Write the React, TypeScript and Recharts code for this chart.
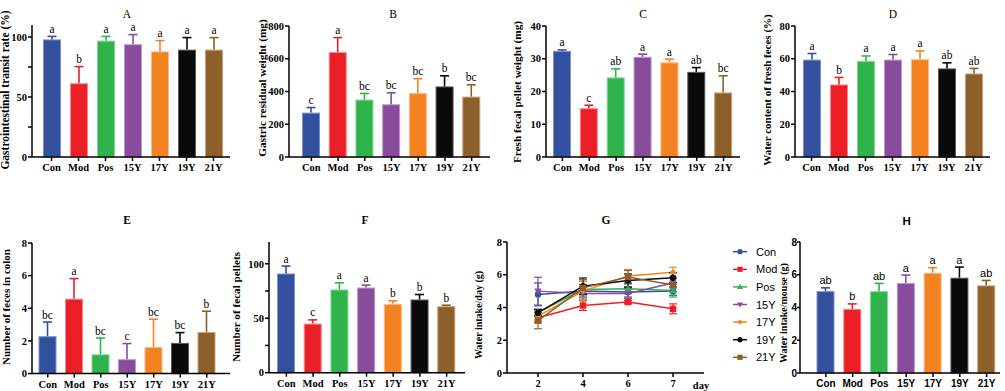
import React from 'react';
import { BarChart, Bar, XAxis, YAxis, LineChart, Line, ErrorBar } from 'recharts';

const SERIF = '"Liberation Serif", "Times New Roman", serif';
const SANS = '"Liberation Sans", Arial, sans-serif';

const groups = ['Con', 'Mod', 'Pos', '15Y', '17Y', '19Y', '21Y'];
const groupColors = ['#33509F', '#EC1F27', '#2FB34B', '#894B9B', '#F58221', '#0A0A0A', '#8D6029'];
const groupEdges = ['#7D92CC', '#F58A8E', '#86D597', '#BC97CA', '#FAB986', '#5A5A5A', '#C6A27A'];
const groupMarkers = ['circle', 'square', 'triangle', 'triangleDown', 'diamond', 'circle', 'square'];

// A - gastrointestinal transit rate (%)
const transitMean = [98, 61.5, 97, 94, 88, 89.5, 89.5];
const transitErr = [2.5, 13.8, 3.5, 8, 9, 10, 10];
const transitSig = ['a', 'b', 'a', 'a', 'a', 'a', 'a'];
const transitTicks = [0, 25, 50, 75, 100];

// B - gastric residual weight (mg)
const residualMean = [271, 641, 351, 322, 390, 431, 369];
const residualErr = [31, 88, 37, 70, 88, 65, 72];
const residualSig = ['c', 'a', 'bc', 'bc', 'bc', 'b', 'bc'];
const residualTicks = [0, 200, 400, 600, 800];

// C - fresh fecal pellet weight (mg)
const pelletWeightMean = [32.4, 14.9, 24.3, 30.6, 28.9, 26.0, 19.7];
const pelletWeightErr = [0.3, 0.9, 2.6, 0.8, 1.0, 1.3, 5.1];
const pelletWeightSig = ['a', 'c', 'ab', 'a', 'a', 'ab', 'bc'];
const pelletWeightTicks = [0, 10, 20, 30, 40];

// D - water content of fresh feces (%)
const waterContentMean = [59.5, 44.3, 58.7, 59.5, 59.7, 54.1, 51.0];
const waterContentErr = [3.7, 4.3, 3.0, 3.1, 5.1, 3.4, 3.1];
const waterContentSig = ['a', 'b', 'a', 'a', 'a', 'ab', 'ab'];
const waterContentTicks = [0, 20, 40, 60, 80];

// E - number of feces in colon
const colonFecesMean = [2.29, 4.59, 1.18, 0.88, 1.63, 1.88, 2.55];
const colonFecesErr = [0.87, 1.23, 1.0, 0.96, 1.7, 0.63, 1.27];
const colonFecesSig = ['bc', 'a', 'bc', 'c', 'bc', 'bc', 'b'];
const colonFecesTicks = [0, 2, 4, 6, 8];

// F - number of fecal pellets
const pelletCountMean = [91.1, 45.1, 76.4, 78.2, 63.2, 67.2, 61.0];
const pelletCountErr = [6.8, 3.4, 6.1, 2.2, 2.8, 4.6, 1.0];
const pelletCountSig = ['a', 'c', 'a', 'a', 'b', 'b', 'b'];
const pelletCountTicks = [0, 25, 50, 75, 100];

// G - water intake per day (g)
const days = ['2', '4', '6', '7'];
const conIntake = [4.8, 5.0, 4.94, 5.0];
const conIntakeErr = [0.7, 0.4, 0.3, 0.25];
const modIntake = [3.37, 4.12, 4.33, 3.92];
const modIntakeErr = [0.3, 0.3, 0.1, 0.3];
const posIntake = [3.71, 5.1, 5.14, 5.04];
const posIntakeErr = [0.2, 0.5, 0.3, 0.4];
const y15Intake = [5.0, 4.86, 4.86, 5.5];
const y15IntakeErr = [0.85, 0.4, 0.3, 0.3];
const y17Intake = [3.47, 5.0, 5.92, 6.16];
const y17IntakeErr = [0.3, 0.6, 0.4, 0.3];
const y19Intake = [3.67, 5.3, 5.65, 5.82];
const y19IntakeErr = [0.2, 0.5, 0.4, 0.3];
const y21Intake = [3.2, 5.2, 5.86, 5.37];
const y21IntakeErr = [0.5, 0.5, 0.4, 0.4];
const intakeTicks = [0, 2, 4, 6, 8];

// H - water intake per mouse (g)
const mouseIntakeMean = [5.0, 3.92, 5.0, 5.5, 6.12, 5.82, 5.35];
const mouseIntakeErr = [0.2, 0.3, 0.47, 0.48, 0.31, 0.65, 0.3];
const mouseIntakeSig = ['ab', 'b', 'ab', 'a', 'a', 'a', 'ab'];
const mouseIntakeTicks = [0, 2, 4, 6, 8];

const intakeSeries = [
  { name: 'Con', values: conIntake, err: conIntakeErr },
  { name: 'Mod', values: modIntake, err: modIntakeErr },
  { name: 'Pos', values: posIntake, err: posIntakeErr },
  { name: '15Y', values: y15Intake, err: y15IntakeErr },
  { name: '17Y', values: y17Intake, err: y17IntakeErr },
  { name: '19Y', values: y19Intake, err: y19IntakeErr },
  { name: '21Y', values: y21Intake, err: y21IntakeErr },
];

const AXW = 32;
const TOPM = 12;
const RM = 6;
const XAH = 24;

const Marker = ({ shape, cx, cy, color, r = 3 }: any) => {
  switch (shape) {
    case 'square':
      return <rect x={cx - r} y={cy - r} width={r * 2} height={r * 2} fill={color} />;
    case 'triangle':
      return <polygon points={`${cx},${cy - r - 0.5} ${cx - r - 0.5},${cy + r - 0.5} ${cx + r + 0.5},${cy + r - 0.5}`} fill={color} />;
    case 'triangleDown':
      return <polygon points={`${cx},${cy + r + 0.5} ${cx - r - 0.5},${cy - r + 0.5} ${cx + r + 0.5},${cy - r + 0.5}`} fill={color} />;
    case 'diamond':
      return <polygon points={`${cx},${cy - r} ${cx + r},${cy} ${cx},${cy + r} ${cx - r},${cy}`} fill={color} />;
    default:
      return <circle cx={cx} cy={cy} r={r} fill={color} />;
  }
};

const SigBar = (props: any) => {
  const { x, y, width, height, payload, index, sans } = props;
  if (!payload || height == null) return null;
  const i = typeof index === 'number' ? index : groups.indexOf(payload.name);
  const color = groupColors[i];
  const errPx = payload.mean ? (payload.err * height) / payload.mean : 0;
  const cx = x + width / 2;
  const top = y - errPx;
  return (
    <g>
      <rect x={x + 0.5} y={y + 0.5} width={width - 1} height={Math.max(height - 0.5, 0)} fill={color} stroke={groupEdges[i]} strokeWidth={1} />
      <line x1={cx} x2={cx} y1={y} y2={top} stroke={color} strokeWidth={1.6} />
      <line x1={cx - 4.5} x2={cx + 4.5} y1={top} y2={top} stroke={color} strokeWidth={1.6} />
      <text x={cx} y={top - 3.5} textAnchor="middle" fontFamily={sans ? SANS : SERIF} fontSize={sans ? 11 : 11.5} fill="#000">
        {payload.sig}
      </text>
    </g>
  );
};

const VLabel = ({ text, x, y, size = 11 }: any) => (
  <div
    style={{
      position: 'absolute',
      left: x,
      top: y,
      transform: 'translate(-50%, -50%) rotate(-90deg)',
      whiteSpace: 'nowrap',
      fontFamily: SERIF,
      fontWeight: 700,
      fontSize: size,
      color: '#000',
      lineHeight: 1,
    }}
  >
    {text}
  </div>
);

const Title = ({ text, x, y, bold, sans }: any) => (
  <div
    style={{
      position: 'absolute',
      left: x,
      top: y,
      transform: 'translate(-50%, -50%)',
      fontFamily: sans ? SANS : SERIF,
      fontWeight: bold ? 700 : 400,
      fontSize: 11.5,
      color: '#000',
      lineHeight: 1,
    }}
  >
    {text}
  </div>
);

const axisStyle = { stroke: '#000', strokeWidth: 1.5 };

const BarPanel = (p: any) => {
  const data = groups.map((name, i) => ({ name, mean: p.mean[i], err: p.err[i], sig: p.sig[i] }));
  const font = p.sans ? SANS : SERIF;
  const tick = { fontFamily: font, fontSize: p.sans ? 10 : 10.5, fontWeight: 700, fill: '#000' };
  return (
    <>
      <div style={{ position: 'absolute', left: p.left - AXW, top: p.top - TOPM }}>
        <BarChart
          width={p.right - p.left + AXW + RM}
          height={p.bottom - p.top + TOPM + XAH}
          data={data}
          margin={{ top: TOPM, right: RM, bottom: 0, left: 0 }}
        >
          <XAxis
            dataKey="name"
            height={XAH}
            interval={0}
            padding={{ left: p.padL, right: p.padR }}
            tickSize={4}
            tickMargin={3}
            axisLine={axisStyle}
            tickLine={axisStyle}
            tick={tick}
          />
          <YAxis
            width={AXW}
            domain={[0, p.max]}
            ticks={p.ticks}
            interval={0}
            tickSize={p.sans ? 3 : 4}
            tickMargin={p.sans ? 0 : 1}
            axisLine={axisStyle}
            tickLine={axisStyle}
            tick={tick}
            tickFormatter={(v: number) => (v % p.major === 0 ? String(v) : '')}
          />
          <Bar dataKey="mean" barSize={18} isAnimationActive={false} shape={(s: any) => <SigBar {...s} sans={p.sans} />} />
        </BarChart>
      </div>
      <Title text={p.title} x={p.titleX} y={p.titleY} bold={p.titleBold} sans={p.sans} />
      <VLabel text={p.yLabel} x={p.yLabelX} y={p.yLabelY} size={p.yLabelSize} />
    </>
  );
};

const IntakePanel = () => {
  const left = 507;
  const right = 704;
  const top = 242.3;
  const bottom = 373.3;
  const data = days.map((day, d) => {
    const row: any = { day };
    intakeSeries.forEach((s) => {
      row[s.name] = s.values[d];
      row[`${s.name}Err`] = s.err[d];
    });
    return row;
  });
  const tick = { fontFamily: SERIF, fontSize: 10.5, fontWeight: 700, fill: '#000' };
  return (
    <>
      <div style={{ position: 'absolute', left: left - AXW, top: top - TOPM }}>
        <LineChart
          width={right - left + AXW + RM}
          height={bottom - top + TOPM + XAH}
          data={data}
          margin={{ top: TOPM, right: RM, bottom: 0, left: 0 }}
        >
          <XAxis
            dataKey="day"
            scale="point"
            height={XAH}
            interval={0}
            padding={{ left: 31, right: 31 }}
            tickSize={4}
            tickMargin={3}
            axisLine={axisStyle}
            tickLine={axisStyle}
            tick={tick}
          />
          <YAxis
            width={AXW}
            domain={[0, 8]}
            ticks={intakeTicks}
            interval={0}
            tickSize={4}
            tickMargin={1}
            axisLine={axisStyle}
            tickLine={axisStyle}
            tick={tick}
          />
          {intakeSeries.map((s, i) => (
            <Line
              key={s.name}
              dataKey={s.name}
              stroke={groupColors[i]}
              strokeWidth={1.5}
              isAnimationActive={false}
              activeDot={false}
              dot={(d: any) => (
                <Marker key={`${s.name}-${d.index}`} shape={groupMarkers[i]} cx={d.cx} cy={d.cy} color={groupColors[i]} r={3.2} />
              )}
            >
              <ErrorBar dataKey={`${s.name}Err`} direction="y" width={4} stroke={groupColors[i]} strokeWidth={1.2} />
            </Line>
          ))}
        </LineChart>
      </div>
      <Title text="G" x={606} y={221} bold />
      <VLabel text="Water intake/day (g)" x={479} y={315} size={10} />
      <div
        style={{
          position: 'absolute',
          left: 701,
          top: 386,
          transform: 'translate(-50%, -50%)',
          fontFamily: SERIF,
          fontWeight: 700,
          fontSize: 10.5,
          lineHeight: 1,
        }}
      >
        day
      </div>
      <svg style={{ position: 'absolute', left: 728, top: 240 }} width={62} height={128}>
        {intakeSeries.map((s, i) => {
          const cy = 11.7 + i * 17.6;
          return (
            <g key={s.name}>
              <line x1={5} x2={19} y1={cy} y2={cy} stroke={groupColors[i]} strokeWidth={1.5} />
              <Marker shape={groupMarkers[i]} cx={12} cy={cy} color={groupColors[i]} r={2.6} />
              <text x={28} y={cy + 4} fontFamily={SANS} fontSize={11} fill="#000">
                {s.name}
              </text>
            </g>
          );
        })}
      </svg>
    </>
  );
};

export default function App() {
  return (
    <div style={{ position: 'absolute', left: 0, top: 0, width: 1005, height: 391, background: '#fff', overflow: 'hidden' }}>
      <BarPanel
        mean={transitMean} err={transitErr} sig={transitSig} ticks={transitTicks} major={50} max={110}
        left={32} right={230} top={25} bottom={157} padL={6} padR={3}
        title="A" titleX={127} titleY={15} yLabel="Gastrointestinal transit rate (%)" yLabelX={6} yLabelY={90} yLabelSize={11.5}
      />
      <BarPanel
        mean={residualMean} err={residualErr} sig={residualSig} ticks={residualTicks} major={200} max={800}
        left={289} right={490} top={26} bottom={157} padL={9} padR={5}
        title="B" titleX={393} titleY={15} yLabel="Gastric residual weight (mg)" yLabelX={263} yLabelY={88} yLabelSize={11.3}
      />
      <BarPanel
        mean={pelletWeightMean} err={pelletWeightErr} sig={pelletWeightSig} ticks={pelletWeightTicks} major={10} max={40}
        left={546} right={740} top={26} bottom={157} padL={3} padR={3}
        title="C" titleX={643} titleY={15} yLabel="Fresh fecal pellet weight (mg)" yLabelX={518} yLabelY={92} yLabelSize={11.3}
      />
      <BarPanel
        mean={waterContentMean} err={waterContentErr} sig={waterContentSig} ticks={waterContentTicks} major={20} max={80}
        left={795} right={990} top={26} bottom={157} padL={3} padR={3}
        title="D" titleX={893} titleY={15} yLabel="Water content of fresh feces (%)" yLabelX={767} yLabelY={90} yLabelSize={11}
      />
      <BarPanel
        mean={colonFecesMean} err={colonFecesErr} sig={colonFecesSig} ticks={colonFecesTicks} major={2} max={8}
        left={32} right={230} top={242.7} bottom={373.3} padL={2.5} padR={10}
        title="E" titleX={127} titleY={221} titleBold yLabel="Number of feces in colon" yLabelX={6} yLabelY={307} yLabelSize={11}
      />
      <BarPanel
        mean={pelletCountMean} err={pelletCountErr} sig={pelletCountSig} ticks={pelletCountTicks} major={50} max={120}
        left={269} right={465} top={242.3} bottom={373} padL={4} padR={5}
        title="F" titleX={365} titleY={221} titleBold yLabel="Number of fecal pellets" yLabelX={237} yLabelY={307} yLabelSize={11.2}
      />
      <IntakePanel />
      <BarPanel
        mean={mouseIntakeMean} err={mouseIntakeErr} sig={mouseIntakeSig} ticks={mouseIntakeTicks} major={2} max={8}
        left={800} right={1000} top={242.3} bottom={373.3} padL={12.5} padR={0} sans
        title="H" titleX={906.7} titleY={221.7} titleBold yLabel="Water intake/mouse (g)" yLabelX={783.5} yLabelY={313} yLabelSize={10}
      />
    </div>
  );
}
